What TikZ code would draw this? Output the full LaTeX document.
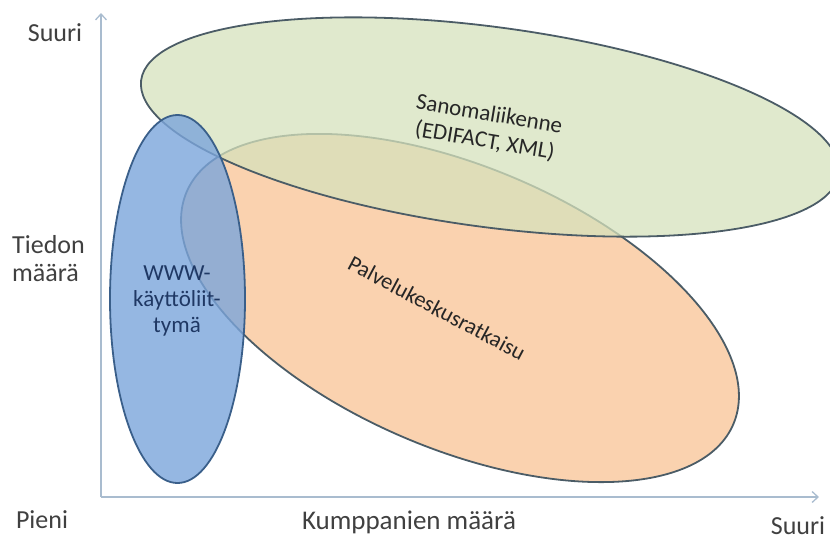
\documentclass[tikz,border=0pt]{standalone}
\usepackage{fontspec}
\setmainfont{Carlito}
\usetikzlibrary{shapes.geometric,arrows.meta}
\definecolor{greenfill}{HTML}{D6E2BC}
\definecolor{orangefill}{HTML}{FAD2AF}
\definecolor{bluefill}{HTML}{7BA5DB}
\definecolor{outl}{HTML}{4B5C66}
\definecolor{blueoutl}{HTML}{3A5F8A}
\definecolor{axiscol}{HTML}{A9BCCF}
\definecolor{labcol}{HTML}{404040}
\definecolor{navy}{HTML}{1F3864}
\tikzset{
  blob/.style={ellipse, inner sep=0pt, line width=1.8pt},
  axisline/.style={axiscol, line width=1.6pt, -{Straight Barb[length=6pt,width=11pt,line width=1.3pt]}},
  axlabel/.style={text=labcol, font=\fontsize{26}{31}\selectfont, inner sep=0pt},
  inlabel/.style={text=black!85, align=center, inner sep=0pt}
}
\begin{document}
\begin{tikzpicture}[x=1pt,y=-1pt]
\useasboundingbox (0,0) rectangle (830,542);
\clip (0,0) rectangle (830,542);
% ellipses
\node[blob, draw=outl, fill=orangefill, minimum width=594pt, minimum height=282pt, rotate=-23] (palv) at (460,308) {};
\node[blob, draw=outl, fill=greenfill, fill opacity=0.75, minimum width=704pt, minimum height=200pt, rotate=-7.65] (sano) at (490,127) {};
\node[blob, draw=blueoutl, fill=bluefill, fill opacity=0.8, minimum width=135pt, minimum height=368pt] (www) at (177.5,299) {};
% axes
\coordinate (O) at (101,497);
\coordinate (ytop) at (101,13);
\coordinate (xend) at (819,497);
\draw[axisline] (O) -- (ytop);
\draw[axisline] (O) -- (xend);
% texts inside
\node[inlabel, rotate=-9.5, font=\fontsize{23}{27}\selectfont] (tsano) at (487,128) {Sanomaliikenne\\(EDIFACT, XML)};
\node[inlabel, rotate=-28, font=\fontsize{22.5}{27}\selectfont] (tpalv) at (437,308) {Palvelukeskusratkaisu};
\node[inlabel, text=navy, font=\fontsize{23}{26}\selectfont] (twww) at (177,301) {WWW-\\käyttöliit-\\tymä};
% axis labels
\node[axlabel] (ysuuri) at (55,33) {Suuri};
\node[axlabel, align=left, anchor=west, font=\fontsize{26}{28}\selectfont] (ytied) at (12,259) {Tiedon\\määrä};
\node[axlabel] (ypieni) at (42,520) {Pieni};
\node[axlabel, font=\fontsize{27}{31}\selectfont] (xkump) at (409,522) {Kumppanien määrä};
\node[axlabel] (xsuuri) at (798,526) {Suuri};
\end{tikzpicture}
\end{document}
